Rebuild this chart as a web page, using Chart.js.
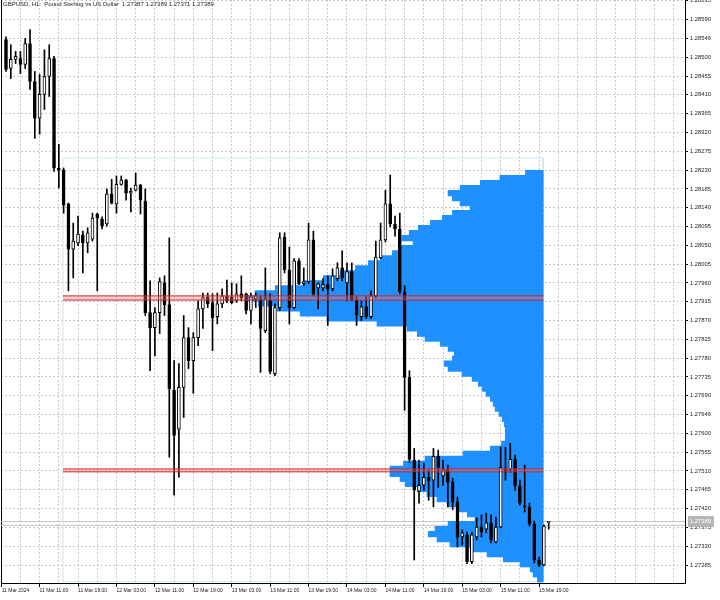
<!DOCTYPE html>
<html>
<head>
<meta charset="utf-8">
<script src="https://cdn.jsdelivr.net/npm/chart.js@4.4.1/dist/chart.umd.min.js"></script>
<style>
  html, body { margin: 0; padding: 0; background: #fff; }
  #wrap { position: relative; width: 720px; height: 600px; }
  #title { position: absolute; left: 3px; top: 1px; font: 6px "Liberation Sans", Arial, sans-serif; color: #222; white-space: nowrap; }
</style>
</head>
<body>
<div id="wrap">
  <canvas id="chart" width="720" height="600"></canvas>
  <div id="title">GBPUSD, H1:&nbsp; Pound Sterling vs US Dollar&nbsp; 1.27387 1.27389 1.27371 1.27389</div>
</div>
<script>
// H1 bars from 11 Mar 04:00 to 15 Mar 21:00, one entry per bar
const opens = [1.28542,1.28473,1.28495,1.28497,1.28483,1.28533,1.28442,1.28354,1.28411,1.28454,
  1.28497,1.28235,1.28230,1.28149,1.28041,1.28056,1.28075,1.28056,1.28065,1.28125,
  1.28113,1.28101,1.28173,1.28149,1.28196,1.28206,1.28175,1.28182,1.28194,1.28156,
  1.27889,1.27853,1.27889,1.27960,1.27908,1.27703,1.27610,1.27710,1.27829,1.27774,
  1.27829,1.27898,1.27927,1.27913,1.27879,1.27910,1.27929,1.27927,1.27917,1.27934,
  1.27934,1.27894,1.27922,1.27922,1.27846,1.27917,1.27743,1.27901,1.28070,1.27991,
  1.27901,1.28013,1.27958,1.27963,1.28063,1.27948,1.27948,1.27956,1.27946,1.27970,
  1.27996,1.27960,1.27987,1.27917,1.27879,1.27903,1.27879,1.27929,1.28020,1.28063,
  1.28149,1.28101,1.28089,1.27939,1.27734,1.27536,1.27462,1.27476,1.27495,1.27488,
  1.27545,1.27498,1.27512,1.27483,1.27436,1.27352,1.27357,1.27293,1.27352,1.27376,
  1.27371,1.27386,1.27340,1.27376,1.27514,1.27514,1.27538,1.27474,1.27426,1.27424,
  1.27383,1.27297,1.27285,1.27387];
const highs = [1.28549,1.28530,1.28514,1.28514,1.28545,1.28566,1.28466,1.28459,1.28518,1.28530,
  1.28502,1.28292,1.28235,1.28151,1.28103,1.28120,1.28084,1.28092,1.28127,1.28127,
  1.28118,1.28185,1.28208,1.28216,1.28216,1.28208,1.28187,1.28223,1.28196,1.28185,
  1.27965,1.27901,1.27972,1.27977,1.28068,1.27774,1.27767,1.27882,1.27853,1.27841,
  1.27917,1.27936,1.27936,1.27934,1.27936,1.27946,1.27967,1.27960,1.27958,1.27977,
  1.27936,1.27936,1.27936,1.27929,1.27996,1.27934,1.27910,1.28080,1.28080,1.28046,
  1.28018,1.28018,1.27996,1.28103,1.28084,1.27960,1.27970,1.27977,1.27994,1.28008,
  1.28037,1.28008,1.28008,1.27927,1.27917,1.27927,1.27941,1.28060,1.28103,1.28182,
  1.28218,1.28120,1.28127,1.27953,1.27750,1.27564,1.27536,1.27529,1.27512,1.27564,
  1.27560,1.27536,1.27524,1.27493,1.27448,1.27369,1.27364,1.27364,1.27398,1.27405,
  1.27409,1.27405,1.27400,1.27567,1.27567,1.27576,1.27548,1.27488,1.27524,1.27433,
  1.27390,1.27304,1.27381,1.27389];
const lows = [1.28466,1.28449,1.28485,1.28461,1.28473,1.28423,1.28306,1.28316,1.28375,1.28406,
  1.28227,1.28187,1.28127,1.27941,1.27972,1.28049,1.27984,1.28032,1.28060,1.27941,
  1.28089,1.28096,1.28149,1.28127,1.28194,1.28158,1.28130,1.28180,1.28125,1.27882,
  1.27750,1.27786,1.27839,1.27882,1.27543,1.27452,1.27495,1.27638,1.27755,1.27696,
  1.27810,1.27851,1.27901,1.27798,1.27862,1.27901,1.27913,1.27910,1.27913,1.27917,
  1.27886,1.27862,1.27901,1.27746,1.27841,1.27743,1.27738,1.27894,1.27984,1.27862,
  1.27898,1.27956,1.27953,1.27958,1.27929,1.27898,1.27941,1.27858,1.27941,1.27965,
  1.27965,1.27917,1.27917,1.27858,1.27870,1.27875,1.27875,1.27925,1.28018,1.28058,
  1.28094,1.28072,1.27934,1.27655,1.27531,1.27297,1.27433,1.27464,1.27440,1.27424,
  1.27471,1.27476,1.27424,1.27417,1.27328,1.27333,1.27288,1.27288,1.27345,1.27352,
  1.27362,1.27338,1.27338,1.27374,1.27488,1.27507,1.27464,1.27428,1.27412,1.27378,
  1.27290,1.27281,1.27283,1.27371];
const closes = [1.28471,1.28495,1.28502,1.28483,1.28533,1.28442,1.28354,1.28411,1.28454,1.28497,
  1.28235,1.28230,1.28146,1.28041,1.28060,1.28077,1.28056,1.28080,1.28115,1.28115,
  1.28096,1.28173,1.28151,1.28196,1.28206,1.28175,1.28180,1.28194,1.28158,1.27889,
  1.27853,1.27889,1.27963,1.27908,1.27707,1.27595,1.27710,1.27829,1.27774,1.27829,
  1.27898,1.27925,1.27910,1.27877,1.27910,1.27929,1.27917,1.27913,1.27934,1.27925,
  1.27894,1.27927,1.27929,1.27851,1.27922,1.27748,1.27901,1.28068,1.27991,1.27901,
  1.28013,1.27958,1.27963,1.28063,1.27934,1.27958,1.27956,1.27946,1.27977,1.27996,
  1.27972,1.27987,1.27920,1.27884,1.27903,1.27879,1.27929,1.28022,1.28063,1.28149,
  1.28101,1.28089,1.27939,1.27734,1.27538,1.27464,1.27476,1.27495,1.27486,1.27545,
  1.27519,1.27512,1.27483,1.27436,1.27352,1.27362,1.27293,1.27357,1.27376,1.27364,
  1.27386,1.27345,1.27376,1.27519,1.27507,1.27538,1.27474,1.27433,1.27424,1.27383,
  1.27297,1.27285,1.27378,1.27389];

// volume profile: price level -> relative volume (in bar widths)
const profileLevels = [1.28223,1.28211,1.28199,1.28187,1.28175,1.28163,1.28151,1.28139,1.28127,1.28115,
  1.28103,1.28091,1.28079,1.28067,1.28055,1.28043,1.28031,1.28019,1.28007,1.27995,
  1.27983,1.27971,1.27959,1.27947,1.27935,1.27923,1.27911,1.27899,1.27887,1.27875,
  1.27863,1.27851,1.27839,1.27827,1.27815,1.27803,1.27791,1.27779,1.27767,1.27755,
  1.27743,1.27731,1.27719,1.27707,1.27695,1.27683,1.27671,1.27659,1.27647,1.27635,
  1.27623,1.27611,1.27599,1.27587,1.27575,1.27563,1.27551,1.27539,1.27527,1.27515,
  1.27503,1.27491,1.27479,1.27467,1.27455,1.27443,1.27431,1.27419,1.27407,1.27395,
  1.27383,1.27371,1.27359,1.27347,1.27335,1.27323,1.27311,1.27299,1.27287,1.27275,
  1.27263,1.27251];
const profileVolumes = [3.7,9.0,13.1,17.3,19.8,18.9,17.3,15.2,18.9,21.0,
  23.5,26.0,27.9,29.4,27.1,29.8,31.4,33.9,36.4,39.1,
  42.3,45.8,50.0,55.8,60.0,61.4,59.3,55.4,50.6,45.0,
  34.6,28.3,26.2,24.6,21.4,19.8,18.5,18.9,20.6,19.8,
  16.9,14.8,13.5,12.7,11.9,11.0,10.4,10.0,9.2,8.5,
  8.1,7.9,7.9,7.9,8.7,11.0,16.7,24.6,29.1,31.9,
  31.9,29.8,28.7,26.2,24.2,22.1,20.0,17.9,15.8,14.2,
  19.8,22.5,23.9,22.1,19.4,15.2,11.7,8.3,4.8,2.7,
  2.1,1.2];

// range of the profile box and its marked levels
const rangeStartBar = 11.87;
const rangeEndBar = 111.85;
const rangeTop = 1.28259;
const rangeBottom = 1.27245;
const upperBand = [1.27929, 1.27919];
const lowerBand = [1.27515, 1.27508];
const priceLines = [1.27389, 1.27380];
const lastPrice = 1.27389;

const xTickBars = [-0.9, 7, 15, 23, 31, 39, 47, 55, 63, 71, 79, 87, 95, 103, 111];
const xTickLabels = ['11 Mar 2024', '11 Mar 11:00', '11 Mar 19:00', '12 Mar 03:00', '12 Mar 11:00',
  '12 Mar 19:00', '13 Mar 03:00', '13 Mar 11:00', '13 Mar 19:00', '14 Mar 03:00', '14 Mar 11:00',
  '14 Mar 19:00', '15 Mar 03:00', '15 Mar 11:00', '15 Mar 19:00'];
const yTicks = [1.28635,1.28590,1.28546,1.28500,1.28455,1.28410,1.28365,1.28320,1.28275,1.28230,
  1.28185,1.28140,1.28095,1.28050,1.28005,1.27960,1.27915,1.27870,1.27825,1.27780,
  1.27735,1.27690,1.27646,1.27600,1.27555,1.27510,1.27465,1.27420,1.27375,1.27330,1.27285];

const xMin = -1.041, xMax = 141.38;
const yMin = 1.27242, yMax = 1.28637;

Chart.defaults.font.family = '"Liberation Sans", Arial, sans-serif';

const bars = opens.map((o, i) => i);

function noPad(scale) {
  scale.paddingTop = 0;
  scale.paddingBottom = 0;
  scale.paddingLeft = 0;
  scale.paddingRight = 0;
}

function hLine(y, color, extra) {
  return Object.assign({
    type: 'line',
    data: [{x: rangeStartBar, y: y}, {x: rangeEndBar, y: y}],
    borderColor: color,
    borderWidth: 1,
    pointRadius: 0,
    pointHoverRadius: 0,
    fill: false,
    yAxisID: 'y',
    order: 0
  }, extra || {});
}

new Chart(document.getElementById('chart'), {
  type: 'bar',
  data: {
    datasets: [
      {
        label: 'bodies',
        data: bars.map(i => ({x: i, y: [opens[i], closes[i]]})),
        backgroundColor: bars.map(i => closes[i] >= opens[i] ? '#ffffff' : '#000000'),
        borderColor: '#000000',
        borderWidth: 1,
        borderSkipped: false,
        barThickness: 3,
        minBarLength: 1,
        grouped: false,
        yAxisID: 'y',
        order: 1
      },
      {
        label: 'wicks',
        data: bars.map(i => ({x: i, y: [lows[i], highs[i]]})),
        backgroundColor: '#000000',
        barThickness: 1,
        grouped: false,
        yAxisID: 'y',
        order: 2
      },
      hLine(upperBand[0], '#d42424'),
      hLine(upperBand[1], '#d42424', {fill: '-1', backgroundColor: 'rgba(240,120,120,0.35)'}),
      hLine(lowerBand[0], '#d42424'),
      hLine(lowerBand[1], '#d42424', {fill: '-1', backgroundColor: 'rgba(240,120,120,0.35)'}),
      {
        label: 'profile',
        indexAxis: 'y',
        data: profileLevels.map((p, k) => ({y: p, x: [rangeEndBar - profileVolumes[k], rangeEndBar]})),
        backgroundColor: '#1e90ff',
        barThickness: 5.6,
        grouped: false,
        yAxisID: 'y',
        order: 5
      },
      {
        type: 'line',
        label: 'range',
        data: [
          {x: rangeStartBar, y: rangeTop}, {x: rangeEndBar, y: rangeTop},
          {x: rangeEndBar, y: rangeBottom}, {x: rangeStartBar, y: rangeBottom},
          {x: rangeStartBar, y: rangeTop}
        ],
        borderColor: '#cfe6f2',
        borderWidth: 1,
        pointRadius: 0,
        pointHoverRadius: 0,
        fill: false,
        yAxisID: 'y',
        order: 7
      },
      {
        type: 'line',
        data: [{x: xMin - 2, y: priceLines[0]}, {x: xMax + 2, y: priceLines[0]}],
        borderColor: '#c4c4c4', borderWidth: 1, pointRadius: 0, pointHoverRadius: 0,
        fill: false, yAxisID: 'y', order: 8
      },
      {
        type: 'line',
        data: [{x: xMin - 2, y: priceLines[1]}, {x: xMax + 2, y: priceLines[1]}],
        borderColor: '#c4c4c4', borderWidth: 1, pointRadius: 0, pointHoverRadius: 0,
        fill: false, yAxisID: 'y', order: 8
      }
    ]
  },
  options: {
    responsive: false,
    animation: false,
    devicePixelRatio: 1,
    events: [],
    layout: {autoPadding: false, padding: {left: 1, top: 0, right: 0, bottom: 0}},
    plugins: {legend: {display: false}, tooltip: {enabled: false}, title: {display: false}},
    scales: {
      x: {
        type: 'linear',
        position: 'bottom',
        min: xMin,
        max: xMax,
        bounds: 'data',
        offset: false,
        beginAtZero: false,
        afterBuildTicks: (scale) => {
          const vals = xTickBars.slice();
          for (let b = 3; b <= 140; b += 8) vals.push(b);
          for (let b = 119; b <= 140; b += 8) vals.push(b);
          scale.ticks = Array.from(new Set(vals)).sort((a, b) => a - b).map(v => ({value: v}));
        },
        afterFit: (scale) => { scale.height = 17; noPad(scale); },
        ticks: {
          autoSkip: false,
          maxRotation: 0,
          align: 'start',
          padding: 1,
          color: '#222',
          font: {size: 5},
          callback: (v) => {
            const i = xTickBars.indexOf(v);
            return i >= 0 ? xTickLabels[i] : '';
          }
        },
        grid: {
          offset: false,
          color: '#c8c8c8',
          tickLength: 4,
          tickColor: (ctx) => (ctx.tick && xTickBars.includes(ctx.tick.value)) ? '#000' : 'rgba(0,0,0,0)'
        },
        border: {display: true, color: '#000', width: 1, dash: [2, 2]}
      },
      y: {
        type: 'linear',
        position: 'right',
        min: yMin,
        max: yMax,
        bounds: 'data',
        offset: false,
        beginAtZero: false,
        afterBuildTicks: (scale) => {
          scale.ticks = yTicks.concat([lastPrice]).sort((a, b) => a - b).map(v => ({value: v}));
        },
        afterFit: (scale) => { scale.width = 35; noPad(scale); },
        ticks: {
          autoSkip: false,
          padding: 2,
          font: {size: 5.8},
          color: (ctx) => ctx.tick && ctx.tick.value === lastPrice ? '#ffffff' : '#222',
          showLabelBackdrop: (ctx) => !!(ctx.tick && ctx.tick.value === lastPrice),
          backdropColor: '#b4b4b4',
          backdropPadding: {top: 2, bottom: 2, left: 2, right: 3},
          callback: (v) => v.toFixed(5)
        },
        grid: {
          offset: false,
          color: (ctx) => ctx.tick && ctx.tick.value === lastPrice ? 'rgba(0,0,0,0)' : '#c8c8c8',
          tickLength: 3,
          tickColor: (ctx) => ctx.tick && ctx.tick.value === lastPrice ? 'rgba(0,0,0,0)' : '#000'
        },
        border: {display: true, color: '#000', width: 1, dash: [2, 2]}
      },
      yLeft: {
        type: 'linear',
        position: 'left',
        display: true,
        offset: false,
        ticks: {display: false},
        grid: {display: false, drawTicks: false},
        border: {display: true, color: '#000', width: 1},
        afterFit: (scale) => { scale.width = 0; noPad(scale); }
      }
    }
  }
});
</script>
</body>
</html>
